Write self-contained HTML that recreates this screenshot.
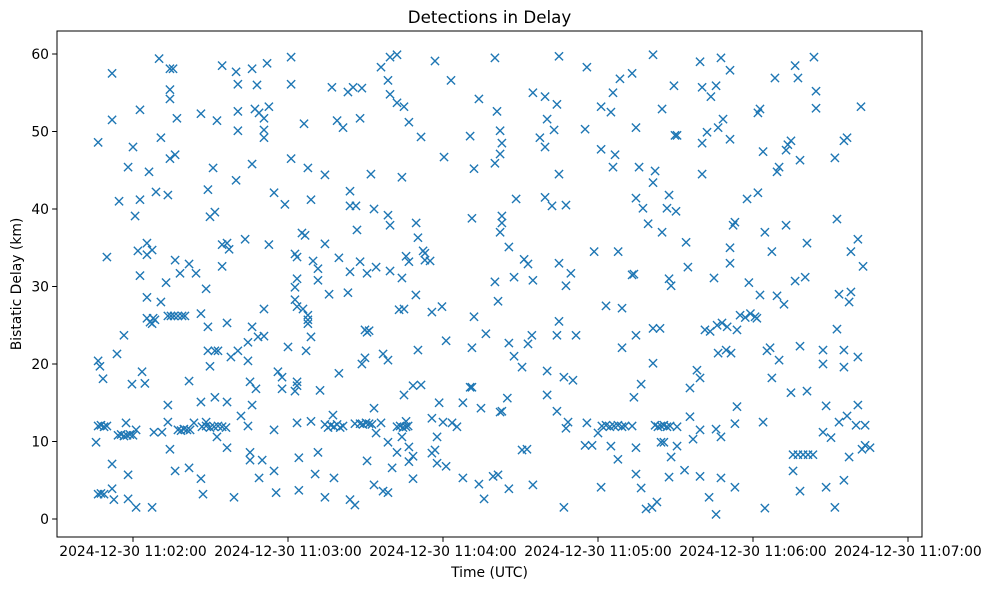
<!DOCTYPE html>
<html><head><meta charset="utf-8"><style>
html,body{margin:0;padding:0;background:#fff;}
svg text{font-family:"DejaVu Sans","Liberation Sans",sans-serif;fill:#000;}
</style></head><body>
<svg id="chart" width="989" height="590" xmlns="http://www.w3.org/2000/svg">
<rect x="0" y="0" width="989" height="590" fill="#fff"/>
<text x="489.5" y="23" font-size="16.7" text-anchor="middle">Detections in Delay</text>
<text x="489.5" y="577" font-size="13.9" text-anchor="middle">Time (UTC)</text>
<text x="0" y="0" font-size="13.9" text-anchor="middle" transform="translate(21,284) rotate(-90)">Bistatic Delay (km)</text>
<g id="marks"></g>
<g id="axes"></g>
</svg>
<script>
// seconds after 11:00:00 UTC on 2024-12-30
const times = [111.9,130.1,134.3,135.5,134.3,134.3,154.5,159.9,166.1,171.9,181.2,160.6,168.0,181.2,122.7,111.9,137.0,146.3,152.5,160.6,167.2,168.8,172.6,170.7,160.6,170.7,170.7,106.5,120,130.8,134.3,136.3,181.2,118.1,126.2,151.0,166.1,159.9,128.9,133.5,149.0,114.6,122.7,174.6,178.8,120.8,149.8,151.7,163.4,125.4,121.9,127.4,125.4,154.5,156.4,157.2,172.6,109.9,136.3,141.7,138.2,144.4,154.5,122.7,132.8,
148.3,125.4,130.8,125.4,126.6,127.8,128.5,127.4,133.5,134.7,135.9,137.4,139.0,140.1,146.3,149.0,156.4,170.7,166.1,116.5,164.5,168.4,170.7,180.0,113.8,149.0,151.7,152.9,157.9,160.6,164.5,106.5,107.2,149.8,123.5,176.1,177.7,108.4,119.6,124.6,141.7,165.3,167.6,177.7,133.5,146.3,151.7,156.4,166.1,161.8,106.5,107.6,108.8,109.9,117.3,114.2,115.4,116.5,117.7,118.8,120,121.2,128.1,131.2,133.5,137.4,138.6,139.7,140.9,142.1,143.6,148.3,146.7,148.3,149.8,151.4,152.9,154.5,156.0,152.5,164.5,174.6,105.7,134.3,156.4,165.3,165.3,170.0,111.9,118.1,136.3,141.7,146.3,174.6,168.8,106.5,107.6,108.8,111.9,112.6,118.1,121.2,127.4,147.1,159.1,175.4,
219.5,222.2,216.0,236.9,260.1,218.7,243.1,197.0,203.2,205.2,208.6,219.5,222.2,224.9,253.9,260.9,186.2,199.0,201.3,207.9,226.8,231.5,250.5,240.4,260.1,187.7,194.3,212.1,224.1,252.0,204.0,188.9,204.0,206.3,213.3,218.7,219.5,229.6,251.2,206.7,185.4,186.6,194.3,230.3,182.7,183.5,189.7,199.7,207.9,225.7,226.8,232.3,233.0,233.0,235.0,191.6,204.0,210.6,214.1,219.5,224.1,183.5,191.6,260.1,
182.7,195.9,203.2,229.5,182.7,183.5,185.8,187.7,187.7,187.7,223.0,224.9,235.7,239.6,252.0,261.3,209.8,210.6,211.4,188.9,256.6,241.2,187.0,230.3,251.2,216.8,218.7,209.8,208.6,199.7,183.5,183.5,182.7,192.4,224.9,228.4,231.5,250.5,251.2,213.3,238.5,247.7,254.7,262.1,183.5,188.9,197.4,194.3,195.5,196.6,197.8,199.0,200.2,201.3,205.9,207.9,209.0,210.2,211.4,212.5,216.0,214.1,222.2,223.4,224.5,225.7,226.5,225.7,224.1,235.7,240.0,243.5,245.4,237.7,218.7,222.2,226.8,228.4,226.8,235.7,236.9,237.7,241.2,191.6,184.2,210.6,220.3,190.5,197.8,228.4,247.7,253.9,259.4,261.3,184.2,194.3,213.3,216.8,218.7,204.0,205.9,255.9,
284.9,295.7,321.3,339.5,313.2,308.5,329.4,340.3,274.8,279.5,284.1,305.8,301.2,305.0,324.8,280.3,262.1,283.0,295.0,314.7,277.5,279.5,329.8,330.6,340.3,262.8,262.1,301.2,306.6,305.8,315.9,322.1,321.3,284.9,340.3,268.3,279.5,282.2,287.6,314.7,317.4,327.5,326.7,330.2,262.8,262.8,262.1,319.4,324.8,334.1,265.5,298.5,307.8,271.4,272.9,284.9,289.5,267.5,274.8,313.2,313.9,334.8,327.5,
287.6,328.3,303.1,309.3,284.9,274.4,284.1,291.5,265.5,272.9,314.7,321.3,324.0,309.3,267.5,270.6,280.3,286.8,290.3,321.3,338.3,339.5,316.7,335.6,313.9,264.9,280.3,262.8,284.1,288.4,287.6,295.7,300.0,301.5,303.1,304.6,306.2,307.7,309.3,310.5,313.2,322.1,323.2,324.4,325.5,326.7,327.9,330.6,335.6,339.5,336.8,324.4,325.5,295.0,297.7,305.0,314.7,330.6,328.3,270.6,272.5,307.7,333.5,314.7,327.5,339.5,265.5,274.8,301.2,316.7,286.8,318.6,320.9,322.8,
347.6,351.1,368.5,376.3,377.4,383.6,384.4,345.7,343.7,362.7,361.9,384.4,401.8,348.4,346.5,342.2,351.1,363.9,374.7,373.5,372.8,378.2,391.7,396.4,395.2,370.1,369.3,361.9,357.7,353.0,352.3,364.6,372.8,392.5,400.6,380.9,351.1,367.3,397.9,351.1,402.6,344.9,358.4,376.3,380.2,
362.7,369.3,372.0,393.3,397.9,397.2,355.0,357.0,359.0,360.8,361.5,341.4,343.4,346.1,348.0,350.0,353.8,392.5,346.5,349.6,351.5,365.4,366.6,370.1,378.2,387.1,395.2,400.6,387.1,395.2,367.3,374.7,380.9,353.8,388.3,400.6,345.7,347.6,353.0,363.9,387.1,390.2,393.3,396.4,399.9,403.4,375.5,377.4,379.4,381.3,383.2,397.2,402.2,403.4,405.3,375.5,347.6,353.0,395.2,388.3,378.2,343.0,345.7,364.6,391.7];
const delays = [57.5,59.4,58.1,58.1,55.4,54.2,58.5,57.7,58.1,58.8,59.6,56.1,56.0,56.1,52.8,51.5,51.7,52.3,51.4,52.6,52.9,52.4,53.2,51.7,50.1,50.2,49.2,48.6,48.0,49.2,46.5,47.0,46.5,45.4,44.8,45.3,45.8,43.7,42.2,41.8,42.5,41.0,41.2,42.1,40.6,39.1,39.0,39.6,36.1,35.6,34.6,34.7,34.1,35.4,35.6,34.8,35.4,33.8,33.4,32.9,31.7,31.7,32.6,31.4,30.5,
29.7,28.6,28.0,25.9,25.4,25.9,25.7,25.2,26.2,26.2,26.2,26.2,26.2,26.2,26.5,24.8,25.3,27.1,24.8,23.7,22.8,23.5,23.6,22.2,21.3,21.7,21.7,21.7,20.9,21.7,20.4,20.4,19.7,19.7,19.0,19.0,18.3,18.1,17.4,17.5,17.8,17.7,16.8,16.8,14.7,15.1,15.7,15.1,14.7,13.3,12.0,12.1,11.9,12.0,12.4,10.8,10.9,10.7,10.8,10.9,10.8,11.5,11.2,11.2,12.5,11.5,11.4,11.6,11.5,11.5,12.4,12.5,11.9,12.0,11.8,11.9,12.0,11.9,11.8,10.6,12.0,11.5,9.9,9.0,9.2,8.6,7.6,7.6,7.1,5.7,6.2,6.6,5.2,6.2,5.3,3.2,3.3,3.2,3.9,2.5,2.6,1.5,1.5,3.2,2.8,3.4,
59.6,59.9,58.3,59.1,59.5,56.6,56.6,55.7,55.1,55.7,55.6,54.8,53.7,53.2,54.2,52.6,51.0,51.4,50.5,51.7,51.2,49.3,49.4,46.7,45.9,45.3,44.4,44.5,44.1,45.2,42.3,41.2,40.4,40.4,40.0,39.2,37.9,38.2,38.8,37.3,36.9,36.6,35.5,36.3,34.2,33.8,33.3,33.7,33.2,33.9,33.2,34.6,34.3,33.4,33.3,32.3,31.9,31.7,32.5,32.0,31.1,31.0,30.8,30.6,
29.9,29.0,29.2,28.9,28.3,27.4,27.1,26.3,25.7,25.2,27.0,27.1,26.7,27.4,26.1,28.1,24.4,24.1,24.3,23.5,23.9,23.0,21.7,21.8,22.1,21.3,20.5,20.8,20.0,18.8,17.7,17.2,16.5,16.6,16.0,17.2,17.3,17.0,17.0,14.3,15.0,15.0,14.3,13.8,12.4,12.6,13.4,12.2,11.8,12.1,11.9,12.2,11.8,12.0,12.3,12.3,12.2,12.4,12.3,12.2,12.4,11.1,11.9,12.0,11.8,11.9,12.0,12.6,10.6,13.0,12.5,12.4,11.9,10.6,9.9,8.6,9.3,8.1,7.4,8.5,8.9,7.2,6.8,8.6,7.9,7.5,6.6,5.8,5.3,5.2,5.3,4.5,5.5,5.7,3.7,2.8,4.4,3.6,3.4,2.5,1.8,2.6,
59.7,58.3,59.9,59.0,57.5,56.8,55.9,55.7,55.0,54.5,53.5,55.0,53.2,52.5,52.9,51.6,50.1,50.2,50.3,50.5,49.2,48.0,49.5,49.5,48.5,48.5,47.1,47.7,47.0,45.4,45.4,44.9,43.4,44.5,44.5,41.3,41.5,40.4,40.5,41.4,40.1,41.8,40.1,39.7,39.1,38.2,37.0,38.1,37.0,35.7,35.1,34.5,34.5,33.5,32.9,33.0,31.7,31.2,30.8,31.5,31.6,32.5,31.0,
30.1,30.1,27.5,27.2,25.5,23.7,23.7,23.7,22.7,22.6,23.7,24.6,24.6,22.1,21.0,19.6,19.1,18.3,17.9,20.1,19.2,18.2,17.4,16.9,15.7,15.6,16.0,13.9,13.9,12.5,11.7,12.4,11.1,12.0,12.1,11.9,12.0,12.1,11.9,12.0,12.0,12.1,11.9,12.0,12.1,11.9,12.0,11.9,13.2,11.5,10.3,9.9,9.9,9.5,9.5,9.4,9.2,9.4,8.0,8.9,9.0,7.7,6.3,5.8,5.4,5.5,3.9,4.4,4.1,4.0,1.5,1.3,1.5,2.2,
59.5,57.9,56.9,58.5,56.9,59.6,55.2,55.9,54.5,52.9,52.4,53.0,53.2,51.6,50.5,49.9,49.0,47.4,48.8,48.3,47.6,46.3,46.6,49.2,48.8,45.4,44.8,42.1,41.3,38.3,37.9,37.0,37.9,38.7,36.1,35.6,35.0,34.5,34.5,33.0,32.6,31.1,30.5,30.7,31.2,
28.9,28.8,27.7,29.0,29.3,28.0,26.3,26.0,26.5,26.1,25.9,24.4,24.2,25.0,25.3,24.8,24.4,24.5,21.4,21.8,21.4,21.7,22.1,20.5,22.3,21.8,21.8,20.9,20.0,19.6,18.2,16.3,16.5,14.5,14.6,14.7,11.6,10.6,12.3,12.5,11.2,10.5,12.5,13.3,12.1,12.1,8.3,8.3,8.3,8.3,8.3,8.0,9.0,9.5,9.2,6.2,5.3,4.1,5.0,4.1,3.6,2.8,0.6,1.4,1.5];
const yTicks = [0,10,20,30,40,50,60];
const xTicks = [120,180,240,300,360,420];
const xTickLabels = ["2024-12-30 11:02:00","2024-12-30 11:03:00","2024-12-30 11:04:00","2024-12-30 11:05:00","2024-12-30 11:06:00","2024-12-30 11:07:00"];

const NS = "http://www.w3.org/2000/svg";
const L = 57, R = 922, T = 31, B = 537;
function xScale(s){ return 133 + (s - 120) * 155 / 60; }
function yScale(d){ return 519 - d * 465 / 60; }

const marks = document.getElementById('marks');
const n = Math.min(times.length, delays.length);
for (let i = 0; i < n; i++) {
  const cx = xScale(times[i]), cy = yScale(delays[i]), h = 4.1;
  const p = document.createElementNS(NS, 'path');
  p.setAttribute('d', `M${cx-h},${cy-h}L${cx+h},${cy+h}M${cx-h},${cy+h}L${cx+h},${cy-h}`);
  p.setAttribute('stroke', '#1f77b4');
  p.setAttribute('stroke-width', '1.4');
  p.setAttribute('fill', 'none');
  
  
  marks.appendChild(p);
}

const axes = document.getElementById('axes');
const frame = document.createElementNS(NS, 'rect');
frame.setAttribute('x', L); frame.setAttribute('y', T);
frame.setAttribute('width', R - L); frame.setAttribute('height', B - T);
frame.setAttribute('fill', 'none'); frame.setAttribute('stroke', '#000'); frame.setAttribute('stroke-width', '1');


axes.appendChild(frame);

yTicks.forEach(v => {
  const y = yScale(v);
  const t = document.createElementNS(NS, 'line');
  t.setAttribute('x1', L - 4.9); t.setAttribute('x2', L); t.setAttribute('y1', y); t.setAttribute('y2', y);
  t.setAttribute('stroke', '#000'); t.setAttribute('stroke-width', '1');
  
  
  axes.appendChild(t);
  const tx = document.createElementNS(NS, 'text');
  tx.setAttribute('x', L - 8); tx.setAttribute('y', y + 4.8);
  tx.setAttribute('font-size', '13.9'); tx.setAttribute('text-anchor', 'end');
  tx.textContent = String(v);
  
  
  axes.appendChild(tx);
});
xTicks.forEach((v, i) => {
  const x = xScale(v);
  const t = document.createElementNS(NS, 'line');
  t.setAttribute('x1', x); t.setAttribute('x2', x); t.setAttribute('y1', B); t.setAttribute('y2', B + 4.9);
  t.setAttribute('stroke', '#000'); t.setAttribute('stroke-width', '1');
  
  
  axes.appendChild(t);
  const tx = document.createElementNS(NS, 'text');
  tx.setAttribute('x', x); tx.setAttribute('y', B + 19);
  tx.setAttribute('font-size', '13.9'); tx.setAttribute('text-anchor', 'middle');
  tx.textContent = xTickLabels[i];
  
  
  axes.appendChild(tx);
});
</script>
</body></html>
